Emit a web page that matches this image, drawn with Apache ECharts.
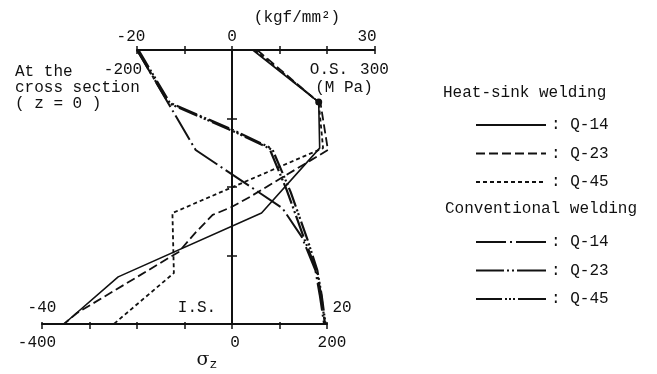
<!DOCTYPE html>
<html><head><meta charset="utf-8">
<script src="https://cdn.jsdelivr.net/npm/echarts@6/dist/echarts.min.js"></script>
<style>html,body{margin:0;padding:0;background:#fff}#c{width:657px;height:374px}</style>
</head><body><div id="c"></div>
<script>
// unit conversion: 1 kgf/mm2 = 9.80665 MPa
const KGF = 9.80665;
// depth: 0 = outer surface (O.S.), 1 = inner surface (I.S.)
const depthTicks = [0, 0.25, 0.5, 0.75, 1];
// tick labels
const topKgfLabels = { '-20': '-20', '0': '0', '30': '30' };
const topMpaLabels = { '-20': '-200', '30': '300' };
const botKgfLabels = { '-40': '-40', '20': '20' };
const botMpaLabels = { '-40': '-400', '0': '0', '20': '200' };
// series values [stress MPa, relative depth]
const hsQ14 = [[43,0],[179,0.19],[181,0.358],[61,0.595],[-235,0.828],[-347,1]];
const hsQ23 = [[52,0],[183,0.197],[198,0.365],[37,0.536],[-1,0.573],[-40,0.602],[-74,0.664],[-110,0.737],[-320,0.96],[-347,1]];
const hsQ45 = [[47,0],[179,0.19],[188,0.358],[-123,0.595],[-120,0.814],[-244,1]];
const cvQ14 = [[-196,0],[-75,0.365],[104,0.577],[144,0.682],[172,0.803],[181,0.894],[190,1]];
const cvQ23 = [[-196,0],[-132,0.19],[2,0.292],[76,0.354],[113,0.511],[150,0.693],[174,0.803],[184,0.894],[192,1]];
const cvQ45 = [[-193,0],[-127,0.197],[6,0.299],[84,0.365],[121,0.518],[156,0.693],[176,0.803],[185,0.894],[193,1]];
const hsNames = ['HS Q-14','HS Q-23','HS Q-45'];
const cvNames = ['CW Q-14','CW Q-23','CW Q-45'];

const FONT = 'Liberation Mono';
const INK = '#111';
const chart = echarts.init(document.getElementById('c'), null, {renderer:'canvas'});
const lbl = (map, padMap) => (v) => {
  const k = String(Math.round(v));
  if (!(k in map)) return '';
  if (padMap && padMap[k]) return '{' + padMap[k] + '|' + map[k] + '}';
  return map[k];
};
const richBase = {fontFamily: FONT, fontSize: 16, color: INK};
const rich = {
  l6: Object.assign({padding:[0,12,0,0]}, richBase),
  l8: Object.assign({padding:[0,15,0,0]}, richBase),
  l14: Object.assign({padding:[0,28,0,0]}, richBase),
  l5: Object.assign({padding:[0,10,0,0]}, richBase),
  r15: Object.assign({padding:[0,0,0,30]}, richBase),
  r5: Object.assign({padding:[0,0,0,10]}, richBase),
  r3: Object.assign({padding:[0,0,0,6]}, richBase)
};
const labelStyle = {fontFamily: FONT, fontSize: 16, color: INK, rich: rich};
const axisLineStyle = {color: INK, width: 2};

function mkSeries(name, data, type, width, extra) {
  return Object.assign({
    name: name, type: 'line', xAxisIndex: 0, yAxisIndex: 0,
    data: data, symbol: 'none', showSymbol: true, animation: false,
    lineStyle: {color: INK, width: width, type: type},
    itemStyle: {color: INK}, z: 5
  }, extra || {});
}
const hsQ14Data = hsQ14.map((p, i) => i === 1 ? {value: p, symbol: 'circle', symbolSize: 7} : p);
const legendCommon = {
  orient: 'vertical', left: 470, itemWidth: 70, itemHeight: 16, itemGap: 12.5,
  selectedMode: false, formatter: n => ': ' + n.slice(3),
  itemStyle: {color: 'rgba(0,0,0,0)', borderColor: 'rgba(0,0,0,0)', borderWidth: 0},
  textStyle: {fontFamily: FONT, fontSize: 16, color: INK, lineHeight: 16}
};
const cvLegendDash = [[30, 4, 2, 4, 34], [28, 3, 2, 3, 2, 3, 33], [26, 3, 2, 2, 2, 2, 2, 3, 32]];

const option = {
  backgroundColor: '#fff',
  animation: false,
  grid: [
    {left: 42, width: 332.5, top: 50, height: 274},
    {left: 137, width: 237.5, top: 50, height: 274},
    {left: 42, width: 285, top: 50, height: 274},
    {left: 232, width: 100, top: 50, height: 274}
  ],
  xAxis: [
    {gridIndex: 0, type: 'value', min: -40*KGF, max: 30*KGF, show: false},
    {gridIndex: 1, type: 'value', position: 'top', min: -20, max: 30, interval: 10,
      axisLine: {show: true, onZero: false, lineStyle: axisLineStyle},
      axisTick: {show: true, length: 4, inside: false, lineStyle: {color: INK, width: 1.5}},
      axisLabel: Object.assign({show: true, margin: 5, formatter: lbl(topKgfLabels, {'-20':'l6','30':'l8'}), showMinLabel: true, showMaxLabel: true}, labelStyle),
      splitLine: {show: false}},
    {gridIndex: 1, type: 'value', position: 'top', min: -20, max: 30, interval: 10,
      axisLine: {show: false, onZero: false},
      axisTick: {show: true, length: 4, inside: true, lineStyle: {color: INK, width: 1.5}},
      axisLabel: Object.assign({show: true, inside: true, margin: 12, formatter: lbl(topMpaLabels, {'-20':'l14'}), showMinLabel: true, showMaxLabel: true}, labelStyle),
      splitLine: {show: false}},
    {gridIndex: 2, type: 'value', position: 'bottom', min: -40, max: 20, interval: 10,
      axisLine: {show: true, onZero: false, lineStyle: axisLineStyle},
      axisTick: {show: true, length: 5, inside: false, lineStyle: {color: INK, width: 1.5}},
      axisLabel: Object.assign({show: true, inside: true, margin: 8, formatter: lbl(botKgfLabels, {'20':'r15'}), showMinLabel: true, showMaxLabel: true}, labelStyle),
      splitLine: {show: false}},
    {gridIndex: 2, type: 'value', position: 'bottom', min: -40, max: 20, interval: 10,
      axisLine: {show: false, onZero: false},
      axisTick: {show: true, length: 2, inside: true, lineStyle: {color: INK, width: 1.5}},
      axisLabel: Object.assign({show: true, margin: 11, formatter: lbl(botMpaLabels, {'-40':'l5','0':'r3','20':'r5'}), showMinLabel: true, showMaxLabel: true}, labelStyle),
      splitLine: {show: false}},
    {gridIndex: 3, type: 'value', min: 0, max: 1, show: false}
  ],
  yAxis: [
    {gridIndex: 0, type: 'value', min: 0, max: 1, interval: 0.25, inverse: true, position: 'left',
      axisLine: {show: true, onZero: true, lineStyle: axisLineStyle},
      axisTick: {show: true, length: 5, inside: false, lineStyle: {color: INK, width: 1.5}},
      axisLabel: {show: false}, splitLine: {show: false}},
    {gridIndex: 1, type: 'value', min: 0, max: 1, show: false},
    {gridIndex: 2, type: 'value', min: 0, max: 1, show: false},
    {gridIndex: 3, type: 'value', min: 0, max: 1, interval: 0.25, inverse: true, position: 'left',
      axisLine: {show: false, onZero: false},
      axisTick: {show: true, length: 5, inside: true, lineStyle: {color: INK, width: 1.5}},
      axisLabel: {show: false}, splitLine: {show: false}}
  ],
  legend: [
    Object.assign({data: hsNames, top: 112}, legendCommon),
    Object.assign({data: cvNames.map((n, i) => ({name: n, lineStyle: {type: cvLegendDash[i]}})), top: 229}, legendCommon)
  ],
  series: [
    mkSeries(hsNames[0], hsQ14Data, 'solid', 1.6),
    mkSeries(hsNames[1], hsQ23, [9, 4], 1.8),
    mkSeries(hsNames[2], hsQ45, [4, 3], 1.8),
    mkSeries(cvNames[0], cvQ14, [28, 4, 2, 4], 2),
    mkSeries(cvNames[1], cvQ23, [22, 3, 2, 3, 2, 3], 2.2),
    mkSeries(cvNames[2], cvQ45, [20, 3, 2, 2, 2, 2, 2, 3], 2.2)
  ],
  graphic: [
    {type: 'text', style: {text: '(kgf/mm²)', x: 297, y: 18, textAlign: 'center', textVerticalAlign: 'middle', font: '16px "' + FONT + '"', fill: INK}},
    {type: 'text', style: {text: 'O.S.', x: 329, y: 70, textAlign: 'center', textVerticalAlign: 'middle', font: '16px "' + FONT + '"', fill: INK}},
    {type: 'text', style: {text: '(M Pa)', x: 344, y: 88, textAlign: 'center', textVerticalAlign: 'middle', font: '16px "' + FONT + '"', fill: INK}},
    {type: 'text', style: {text: 'At the', x: 15, y: 72, textAlign: 'left', textVerticalAlign: 'middle', font: '16px "' + FONT + '"', fill: INK}},
    {type: 'text', style: {text: 'cross section', x: 15, y: 88, textAlign: 'left', textVerticalAlign: 'middle', font: '16px "' + FONT + '"', fill: INK}},
    {type: 'text', style: {text: '( z = 0 )', x: 15, y: 104, textAlign: 'left', textVerticalAlign: 'middle', font: '16px "' + FONT + '"', fill: INK}},
    {type: 'text', style: {text: 'I.S.', x: 197, y: 308, textAlign: 'center', textVerticalAlign: 'middle', font: '16px "' + FONT + '"', fill: INK}},
    {type: 'text', style: {text: '{s|σ}{z|z}', x: 207, y: 360, textAlign: 'center', textVerticalAlign: 'middle',
      rich: {s: {font: '19px "DejaVu Serif"', fill: INK}, z: {font: '13px "' + FONT + '"', fill: INK, padding: [10, 0, 0, 0]}}}},
    {type: 'text', style: {text: 'Heat-sink welding', x: 443, y: 93, textAlign: 'left', textVerticalAlign: 'middle', font: '16px "' + FONT + '"', fill: INK}},
    {type: 'text', style: {text: 'Conventional welding', x: 445, y: 209, textAlign: 'left', textVerticalAlign: 'middle', font: '16px "' + FONT + '"', fill: INK}}
  ]
};
chart.setOption(option);
</script>
</body></html>
